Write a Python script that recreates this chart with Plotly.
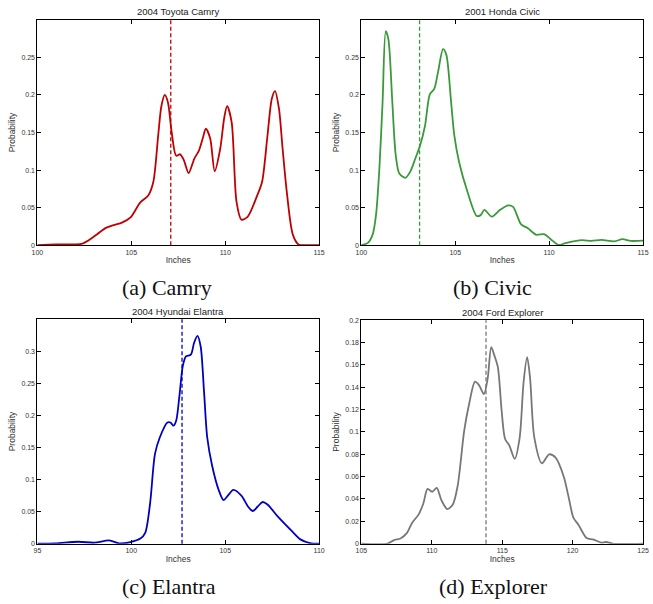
import plotly.graph_objects as go

# ---- Camry wheelbase distribution ----
camry_x = [100.0, 101.0, 102.0, 102.4, 102.7, 103.2, 103.65, 104.1, 104.5, 104.96, 105.48, 105.9,
           106.17, 106.43, 106.6, 106.78, 106.95, 107.15, 107.39, 107.6, 107.8, 108.05, 108.35,
           108.6, 108.8, 108.97, 109.2, 109.44, 109.73, 109.95, 110.1, 110.34, 110.6, 110.86,
           111.2, 111.7, 111.96, 112.25, 112.48, 112.65, 112.86, 113.05, 113.26, 113.6, 113.9,
           114.3, 115.0]
camry_y = [0.0, 0.001, 0.001, 0.002, 0.006, 0.015, 0.023, 0.027, 0.030, 0.037, 0.057, 0.066,
           0.084, 0.146, 0.185, 0.200, 0.190, 0.150, 0.119, 0.121, 0.113, 0.096, 0.115,
           0.126, 0.142, 0.155, 0.142, 0.0985, 0.128, 0.170, 0.185, 0.164, 0.058, 0.034,
           0.038, 0.066, 0.084, 0.146, 0.195, 0.205, 0.182, 0.130, 0.075, 0.014, 0.001,
           0.0, 0.0]

# ---- Civic wheelbase distribution ----
civic_x = [100.0, 100.35, 100.6, 100.78, 100.96, 101.13, 101.3, 101.44, 101.65, 101.83, 102.03,
           102.35, 102.6, 102.87, 103.13, 103.39, 103.65, 103.88, 104.08, 104.35, 104.52,
           104.78, 104.95, 105.2, 105.65, 106.14, 106.35, 106.55, 106.95, 107.39, 107.82,
           108.08, 108.5, 108.87, 109.3, 109.73, 110.08, 110.5, 110.86, 111.73, 112.25,
           112.78, 113.47, 113.9, 114.34, 115.0]
civic_y = [0.0, 0.003, 0.014, 0.040, 0.102, 0.190, 0.285, 0.274, 0.190, 0.120, 0.095,
           0.0897, 0.0976, 0.115, 0.133, 0.159, 0.201, 0.208, 0.230, 0.261, 0.254,
           0.190, 0.146, 0.111, 0.071, 0.039, 0.040, 0.047, 0.038, 0.047, 0.053,
           0.051, 0.028, 0.0225, 0.014, 0.0146, 0.008, 0.0004, 0.0026, 0.0066, 0.0057,
           0.007, 0.005, 0.008, 0.0057, 0.006]

# ---- Elantra wheelbase distribution ----
elantra_x = [95.0, 95.96, 97.17, 98.04, 98.82, 99.35, 99.95, 100.48, 100.74, 101.0, 101.26,
             101.52, 101.92, 102.08, 102.25, 102.39, 102.57, 102.74, 102.91, 103.17, 103.34,
             103.52, 103.69, 103.87, 104.04, 104.3, 104.65, 104.91, 105.17, 105.43, 105.86,
             106.21, 106.47, 106.73, 106.99, 107.25, 107.78, 108.47, 109.0, 109.51, 110.0]
elantra_y = [0.0, 0.0005, 0.003, 0.0015, 0.005, 0.0005, 0.0026, 0.008, 0.017, 0.063, 0.140,
             0.166, 0.189, 0.189, 0.184, 0.192, 0.233, 0.277, 0.292, 0.295, 0.313,
             0.324, 0.308, 0.238, 0.166, 0.122, 0.084, 0.068, 0.076, 0.084, 0.075,
             0.058, 0.051, 0.058, 0.065, 0.061, 0.043, 0.022, 0.0067, 0.001, 0.0]

# ---- Explorer wheelbase distribution ----
explorer_x = [105.0, 106.85, 107.32, 107.78, 108.24, 108.6, 109.06, 109.4, 109.7, 110.03, 110.35,
              110.68, 111.1, 111.49, 111.84, 112.3, 112.65, 113.07, 113.35, 113.7, 113.97,
              114.22, 114.43, 114.69, 114.96, 115.2, 115.5, 115.89, 116.24, 116.52, 116.77,
              116.98, 117.28, 117.82, 118.33, 118.79, 119.37, 119.76, 120.06, 120.41, 120.99,
              121.45, 122.03, 122.38, 122.85, 125.0]
explorer_y = [0.0, 0.0, 0.0032, 0.0047, 0.0097, 0.0186, 0.026, 0.036, 0.049, 0.0465, 0.050,
              0.039, 0.031, 0.035, 0.052, 0.101, 0.125, 0.145, 0.142, 0.134, 0.148,
              0.176, 0.169, 0.158, 0.119, 0.094, 0.088, 0.076, 0.095, 0.145, 0.167,
              0.148, 0.095, 0.072, 0.080, 0.077, 0.060, 0.039, 0.023, 0.017, 0.005,
              0.0038, 0.001, 0.0015, 0.0, 0.0]

titles = ["2004 Toyota Camry", "2001 Honda Civic", "2004 Hyundai Elantra", "2004 Ford Explorer"]
captions = ["(a) Camry", "(b) Civic", "(c) Elantra", "(d) Explorer"]
means = [107.1, 103.1, 102.7, 113.85]
colors = ["#c00000", "#3a9a3a", "#0000c0", "#777777"]
x_ranges = [[100, 115], [100, 115], [95, 110], [105, 125]]
x_ticks = [[100, 105, 110, 115], [100, 105, 110, 115], [95, 100, 105, 110], [105, 110, 115, 120, 125]]
y_ranges = [[0, 0.3], [0, 0.3], [0, 0.35], [0, 0.2]]
y_ticks = [[0, 0.05, 0.1, 0.15, 0.2, 0.25], [0, 0.05, 0.1, 0.15, 0.2, 0.25],
           [0, 0.05, 0.1, 0.15, 0.2, 0.25, 0.3],
           [0, 0.02, 0.04, 0.06, 0.08, 0.1, 0.12, 0.14, 0.16, 0.18, 0.2]]

series = [(camry_x, camry_y), (civic_x, civic_y), (elantra_x, elantra_y), (explorer_x, explorer_y)]

W, H = 653, 604
# panel boxes in pixels: (left, right, top, bottom)
boxes = [(32, 319, 16, 244), (362, 649, 16, 244), (32, 319, 319, 546), (362, 649, 320, 546)]
caption_pos = [(164, 287), (496, 287), (166, 589), (497, 589)]

fig = go.Figure()
layout = dict(width=W, height=H, margin=dict(l=0, r=0, t=0, b=0),
              paper_bgcolor="white", plot_bgcolor="white", showlegend=False,
              font=dict(family="Liberation Sans, Arial, sans-serif", color="#222"))
annotations = []
shapes = []


def fmt(v):
    return "%g" % v


for i, ((xs, ys), box) in enumerate(zip(series, boxes)):
    n = "" if i == 0 else str(i + 1)
    xa, ya = "x" + n, "y" + n
    l, r, t, b = box
    fig.add_trace(go.Scatter(x=xs, y=ys, mode="lines", xaxis=xa, yaxis=ya,
                             line=dict(color=colors[i], width=1.8, shape="spline", smoothing=0.8),
                             hoverinfo="skip"))
    common = dict(showline=True, linecolor="black", linewidth=1, mirror="ticks",
                  ticks="inside", ticklen=4, tickcolor="black", showgrid=False, zeroline=False,
                  tickfont=dict(size=7, color="#333"))
    layout["xaxis" + n] = dict(domain=[l / W, r / W], range=x_ranges[i], anchor=ya,
                               tickvals=x_ticks[i], ticktext=[fmt(v) for v in x_ticks[i]],
                               title=dict(text="Inches", font=dict(size=8.5, color="#333"), standoff=2),
                               **common)
    layout["yaxis" + n] = dict(domain=[1 - b / H, 1 - t / H], range=y_ranges[i], anchor=xa,
                               tickvals=y_ticks[i], ticktext=[fmt(v) for v in y_ticks[i]],
                               title=dict(text="Probability", font=dict(size=8.5, color="#333"), standoff=4),
                               **common)
    # dashed marker at the mean wheelbase
    shapes.append(dict(type="line", xref=xa, yref=ya + " domain", x0=means[i], x1=means[i],
                       y0=0, y1=1, line=dict(color=colors[i], width=1.3, dash="4px,2.5px")))
    annotations.append(dict(text=titles[i], xref="paper", yref="paper",
                            x=(l + r) / 2 / W, y=1 - (t - 8) / H, showarrow=False,
                            xanchor="center", yanchor="middle",
                            font=dict(size=9.5, color="#222")))
    cx, cy = caption_pos[i]
    annotations.append(dict(text=captions[i], xref="paper", yref="paper",
                            x=cx / W, y=1 - cy / H, showarrow=False,
                            xanchor="center", yanchor="middle",
                            font=dict(size=22, family="Liberation Serif, Times New Roman, serif",
                                      color="#111")))

layout["annotations"] = annotations
layout["shapes"] = shapes
fig.update_layout(**layout)
fig.write_html("out.html")
